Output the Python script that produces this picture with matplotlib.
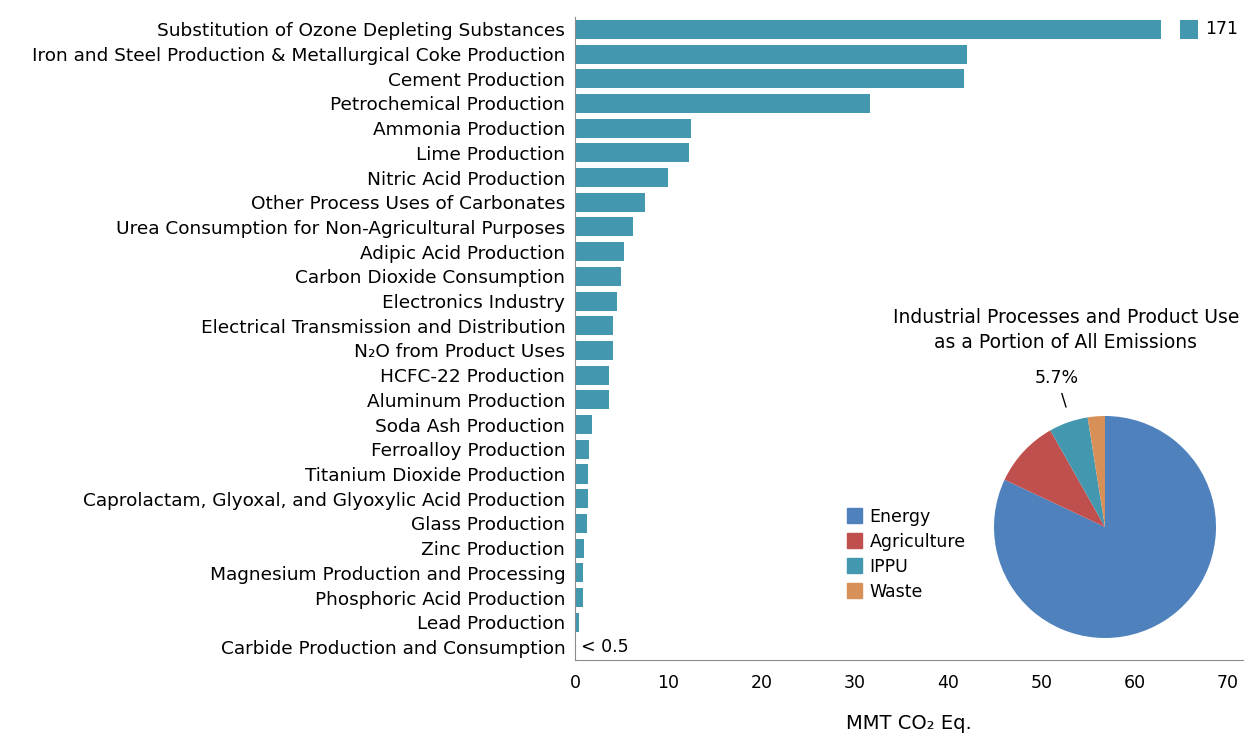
"""IPPU emissions by source, with share of all emissions"""

import matplotlib.pyplot as plt
from matplotlib.patches import Patch

plt.rcParams["font.family"] = ["DejaVu Sans"]

sources = [
    "Substitution of Ozone Depleting Substances",
    "Iron and Steel Production & Metallurgical Coke Production",
    "Cement Production",
    "Petrochemical Production",
    "Ammonia Production",
    "Lime Production",
    "Nitric Acid Production",
    "Other Process Uses of Carbonates",
    "Urea Consumption for Non-Agricultural Purposes",
    "Adipic Acid Production",
    "Carbon Dioxide Consumption",
    "Electronics Industry",
    "Electrical Transmission and Distribution",
    "N\u2082O from Product Uses",
    "HCFC-22 Production",
    "Aluminum Production",
    "Soda Ash Production",
    "Ferroalloy Production",
    "Titanium Dioxide Production",
    "Caprolactam, Glyoxal, and Glyoxylic Acid Production",
    "Glass Production",
    "Zinc Production",
    "Magnesium Production and Processing",
    "Phosphoric Acid Production",
    "Lead Production",
    "Carbide Production and Consumption",
]
emissions = [171, 42.0, 41.7, 31.6, 12.4, 12.2, 10.0, 7.5, 6.2, 5.2, 4.9, 4.5,
             4.1, 4.1, 3.6, 3.6, 1.8, 1.5, 1.4, 1.4, 1.3, 1.0, 0.9, 0.9, 0.4, 0.15]

sectors = ["Energy", "Agriculture", "IPPU", "Waste"]
shares = [82.0, 9.8, 5.7, 2.5]

bar_color = "#4398B0"
sector_colors = ["#4F81BD", "#C0504D", "#4398B0", "#D79158"]
break_at = 62.8  # top bar is cut off here

fig = plt.figure(figsize=(12.57, 7.5), dpi=100)
ax = fig.add_axes([575 / 1257, 1 - 660 / 750, (1243 - 575) / 1257, (660 - 17) / 750])

drawn = [min(v, break_at) for v in emissions]
ypos = list(range(len(sources)))
ax.barh(ypos, drawn, height=0.77, color=bar_color)
ax.set_yticks(ypos)
ax.set_yticklabels(sources, fontsize=13.3)
ax.set_ylim(len(sources) - 0.47, -0.5)
ax.set_xlim(0, 71.6)
ax.set_xticks(range(0, 71, 10))
ax.tick_params(axis="both", length=0)
ax.tick_params(axis="y", pad=7, labelsize=13.3)
ax.tick_params(axis="x", pad=10, labelsize=12.5)
for side in ["top", "right"]:
    ax.spines[side].set_visible(False)
for side in ["left", "bottom"]:
    ax.spines[side].set_color("#8c8c8c")
ax.set_xlabel("MMT CO\u2082 Eq.", fontsize=14, labelpad=16)

# broken-bar marker and value for the top bar
ax.barh(0, 2.0, left=break_at + 2.0, height=0.77, color=bar_color)
ax.text(break_at + 4.7, 0, f"{emissions[0]:g}", va="center", ha="left", fontsize=12.5)
ax.text(emissions[-1] + 0.5, len(sources) - 1, "< 0.5", va="center", ha="left", fontsize=12.5)

# pie of all emissions
pax = fig.add_axes([(1105 - 111) / 1257, 1 - (527 + 111) / 750, 222 / 1257, 222 / 750])
pax.pie(shares, colors=sector_colors, startangle=90, counterclock=False,
        wedgeprops=dict(linewidth=0))
pax.set_xlim(-1, 1)
pax.set_ylim(-1, 1)
pax.set_aspect("equal")
pax.axis("off")
fig.text(1066 / 1257, 1 - 330 / 750, "Industrial Processes and Product Use\nas a Portion of All Emissions",
         ha="center", va="center", fontsize=13.5, linespacing=1.35)
fig.text(1057 / 1257, 1 - 378 / 750, f"{shares[2]}%", ha="center", va="center", fontsize=12.5)
fig.text(1064 / 1257, 1 - 401 / 750, "\\", ha="center", va="center", fontsize=12.5)

handles = [Patch(color=c, label=s) for c, s in zip(sector_colors, sectors)]
fig.legend(handles=handles, loc="upper left", bbox_to_anchor=(840 / 1257, 1 - 501 / 750),
           frameon=False, fontsize=12.5, handlelength=0.85, handleheight=0.95,
           handletextpad=0.45, labelspacing=0.4, borderaxespad=0)

fig.savefig("out.png", dpi=100)
